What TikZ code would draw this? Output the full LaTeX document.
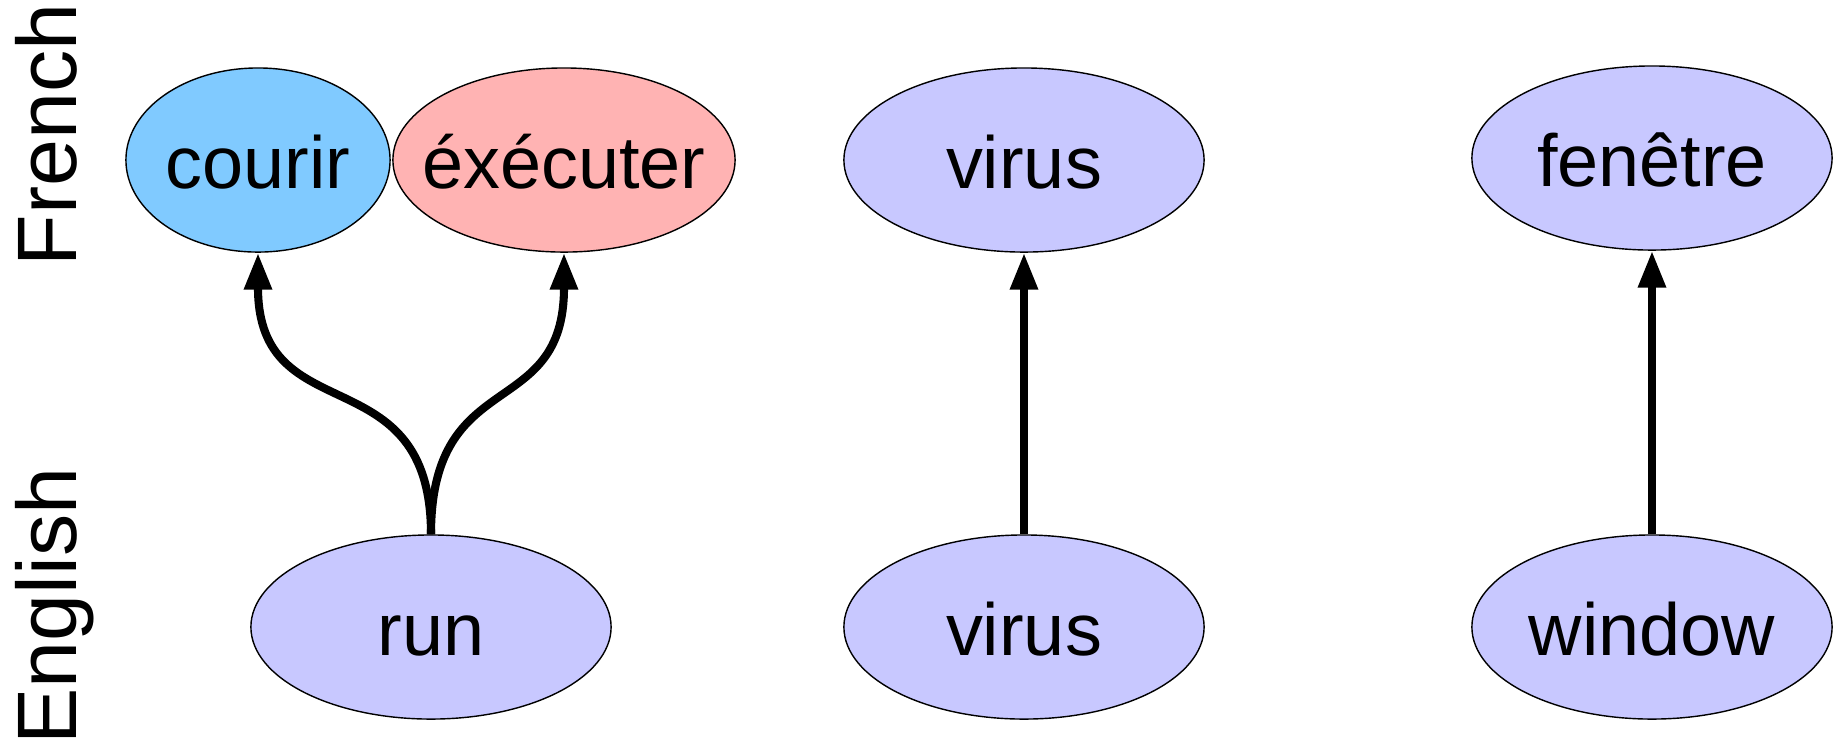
\documentclass[tikz,border=0pt]{standalone}
\usepackage{fontspec}
\setmainfont{Liberation Sans}
\usetikzlibrary{shapes.geometric,arrows.meta}

\definecolor{wordblue}{RGB}{128,202,255}
\definecolor{wordpink}{RGB}{255,179,179}
\definecolor{wordlav}{RGB}{200,200,255}

\begin{document}
\begin{tikzpicture}[x=0.01cm,y=-0.01cm]
    \useasboundingbox (0,0) rectangle (1835,747);

    \node[rotate=90,anchor=base,font=\fontsize{24}{28}\selectfont] (french) at (77,135) {French};
    \node[rotate=90,anchor=base,font=\fontsize{24}{28}\selectfont] (english) at (77,606) {English};

    \begin{scope}[every node/.style={ellipse,draw,line width=0.4pt,inner sep=0pt,
            minimum width=3.6cm,minimum height=1.84cm,fill=wordlav,
            font=\fontsize{21}{25}\selectfont,text height=18pt,text depth=2pt}]
        \node[fill=wordblue,minimum width=2.64cm,inner xsep=-0.05cm] (courir) at (258,160) {courir};
        \node[fill=wordpink,minimum width=3.42cm,inner xsep=-0.21cm] (executer) at (564,160) {éxécuter};
        \node (virusFr) at (1024,160) {virus};
        \node (fenetre) at (1652,158) {fenêtre};
        \node (run) at (431,627) {run};
        \node (virusEn) at (1024,627) {virus};
        \node (window) at (1652,627) {window};
    \end{scope}
    \begin{scope}[every path/.style={-{Triangle[length=10.5pt,width=7.5pt]},line width=2.3pt}]
        \path (run.north) edge[out=90,in=-90,looseness=1.4] (courir.south);
        \path (run.north) edge[out=90,in=-90,looseness=1.4] (executer.south);
        \path (virusEn) edge (virusFr);
        \path (window) edge (fenetre);
    \end{scope}
\end{tikzpicture}
\end{document}
